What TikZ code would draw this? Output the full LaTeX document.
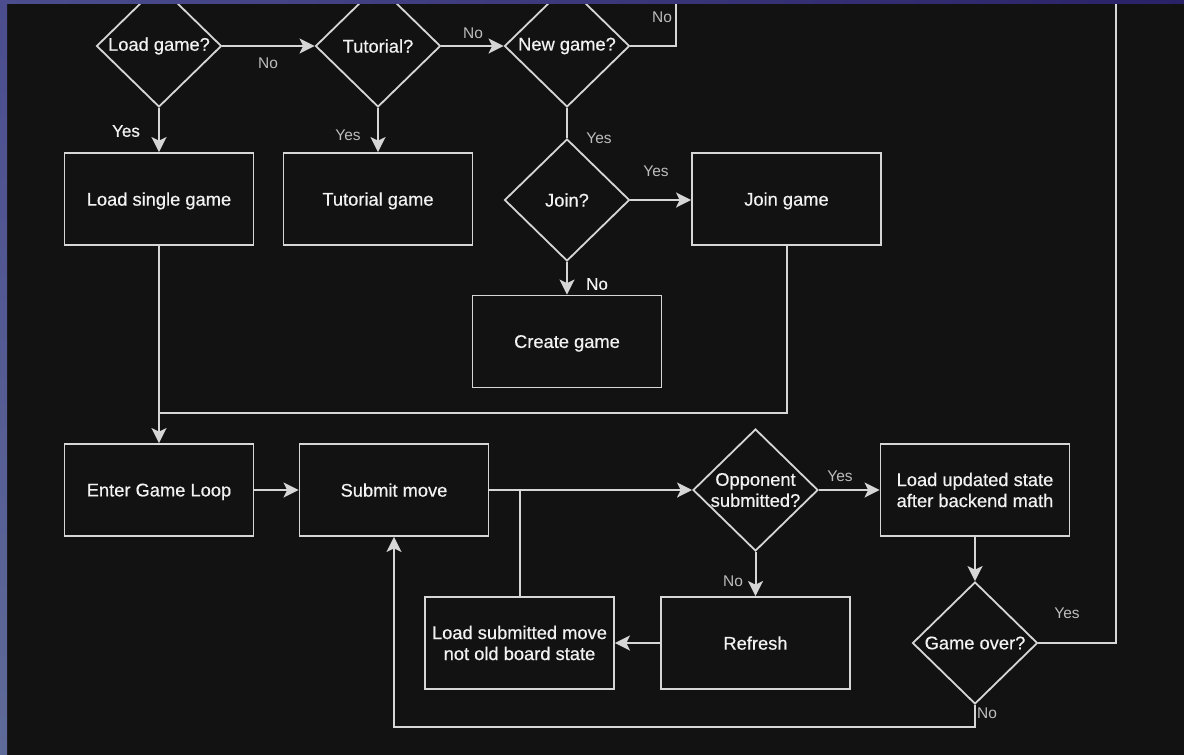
\documentclass[tikz,border=0pt]{standalone}
\usepackage{fontspec}
\setmainfont{Liberation Sans}
\newfontfamily\semibf[FakeBold=0.5]{Liberation Sans}
\usetikzlibrary{shapes.geometric,arrows.meta,calc}
\definecolor{bg}{HTML}{121212}
\definecolor{ln}{HTML}{D6D6D6}
\definecolor{tx}{HTML}{F2F2F2}
\definecolor{gl}{HTML}{BDBDBD}
\definecolor{stripA}{HTML}{4B4D8E}
\definecolor{stripB}{HTML}{5E6A98}
\definecolor{stripC}{HTML}{2A2268}
\begin{document}
\begin{tikzpicture}[x=1pt,y=-1pt,
  box/.style={draw=ln, line width=1.8pt, fill=bg, minimum width=189pt, minimum height=92pt, inner sep=0pt,
    text=tx, font=\semibf\fontsize{18.3}{21}\selectfont, align=center},
  boxtext/.style={text=tx, font=\semibf\fontsize{18.3}{21}\selectfont, align=center, inner sep=0pt, text depth=0pt},
  dia/.style={draw=ln, line width=1.8pt, fill=bg, diamond, minimum width=125pt, minimum height=122pt, inner sep=0pt},
  dtext/.style={text=tx, font=\semibf\fontsize{18.3}{21}\selectfont, align=center, inner sep=0pt},
  conn/.style={draw=ln, line width=2pt},
  arr/.style={conn, -{Stealth[length=15pt,width=15pt,inset=3.5pt]}},
  glab/.style={text=gl, font=\fontsize{15.5}{17}\selectfont, inner sep=0pt},
  wlab/.style={text=tx, font=\semibf\fontsize{17}{20}\selectfont, inner sep=0pt}]
\useasboundingbox (0,0) rectangle (1184,755);
\fill[bg] (0,0) rectangle (1184,755);

% decisions
\node[dia] (lg) at (159,46) {};
\node[dtext] at (lg.center) {Load game?};
\node[dia] (tut) at (378,46) {};
\node[dtext] at (tut.center) {Tutorial?};
\node[dia] (ng) at (567,46) {};
\node[dtext] at (ng.center) {New game?};
\node[dia] (join) at (567,200) {};
\node[dtext] at (join.center) {Join?};
\node[dia] (opp) at (755.5,490) {};
\node[dtext] at (opp.center) {Opponent\\submitted?};
\node[dia] (go) at (975,643) {};
\node[dtext] at (go.center) {Game over?};

% boxes
\node[box] (lsg) at (159,199) {};
\node[boxtext] at (lsg.center) {Load single game};
\node[box] (tg) at (378,199) {};
\node[boxtext] at (tg.center) {Tutorial game};
\node[box] (jg) at (786.5,199) {};
\node[boxtext] at (jg.center) {Join game};
\node[box] (cg) at (567,341.5) {};
\node[boxtext] at (cg.center) {Create game};
\node[box] (egl) at (159,490) {};
\node[boxtext] at (egl.center) {Enter Game Loop};
\node[box] (sm) at (394,490) {};
\node[boxtext] at (sm.center) {Submit move};
\node[box] (lus) at (975,490) {Load updated state\\after backend math};
\node[box] (ref) at (755.5,643) {};
\node[boxtext] at (ref.center) {Refresh};
\node[box] (lsm) at (519.5,643) {Load submitted move\\not old board state};

% helper coordinates
\coordinate (topA) at (676,-5);
\coordinate (topB) at (1116,-5);
\coordinate (merge) at (159,413);
\coordinate (bottom) at (975,727);

% connectors
\draw[arr] (lg.east) -- (tut.west);
\draw[arr] (tut.east) -- (ng.west);
\draw[conn] (ng.east) -| (topA);
\draw[arr] (lg.south) -- (lsg.north);
\draw[arr] (tut.south) -- (tg.north);
\draw[conn] (ng.south) -- (join.north);
\draw[arr] (join.east) -- (join.east -| jg.west);
\draw[arr] (join.south) -- (cg.north);
\draw[conn] (jg.south) |- (merge);
\draw[arr] (lsg.south) -- (egl.north);
\draw[arr] (egl.east) -- (sm.west);
\draw[arr] (sm.east) -- (opp.west);
\draw[conn] (lsm.north) -- (lsm.north |- sm.east);
\draw[arr] (opp.east) -- (lus.west);
\draw[arr] (opp.south) -- (ref.north);
\draw[arr] (ref.west) -- (lsm.east);
\draw[arr] (lus.south) -- (go.north);
\draw[conn] (go.east) -| (topB);
\draw[arr] (go.south) -- (bottom) -| (sm.south);

% labels
\node[glab] (l1) at (268,63) {No};
\node[glab] (l2) at (473,33) {No};
\node[glab] (l3) at (662,17) {No};
\node[wlab] (l4) at (126,131) {Yes};
\node[glab] (l5) at (348,135) {Yes};
\node[glab] (l6) at (599,138) {Yes};
\node[glab] (l7) at (656,171) {Yes};
\node[wlab] (l8) at (597,284) {No};
\node[glab] (l9) at (840,476) {Yes};
\node[glab] (l10) at (733,581) {No};
\node[glab] (l11) at (1067,613) {Yes};
\node[glab] (l12) at (987,713) {No};

% frame strips
\shade[top color=stripA, bottom color=stripB] (0,0) rectangle (7,755);
\shade[left color=stripA, right color=stripC] (0,0) rectangle (1184,3);
\end{tikzpicture}
\end{document}
